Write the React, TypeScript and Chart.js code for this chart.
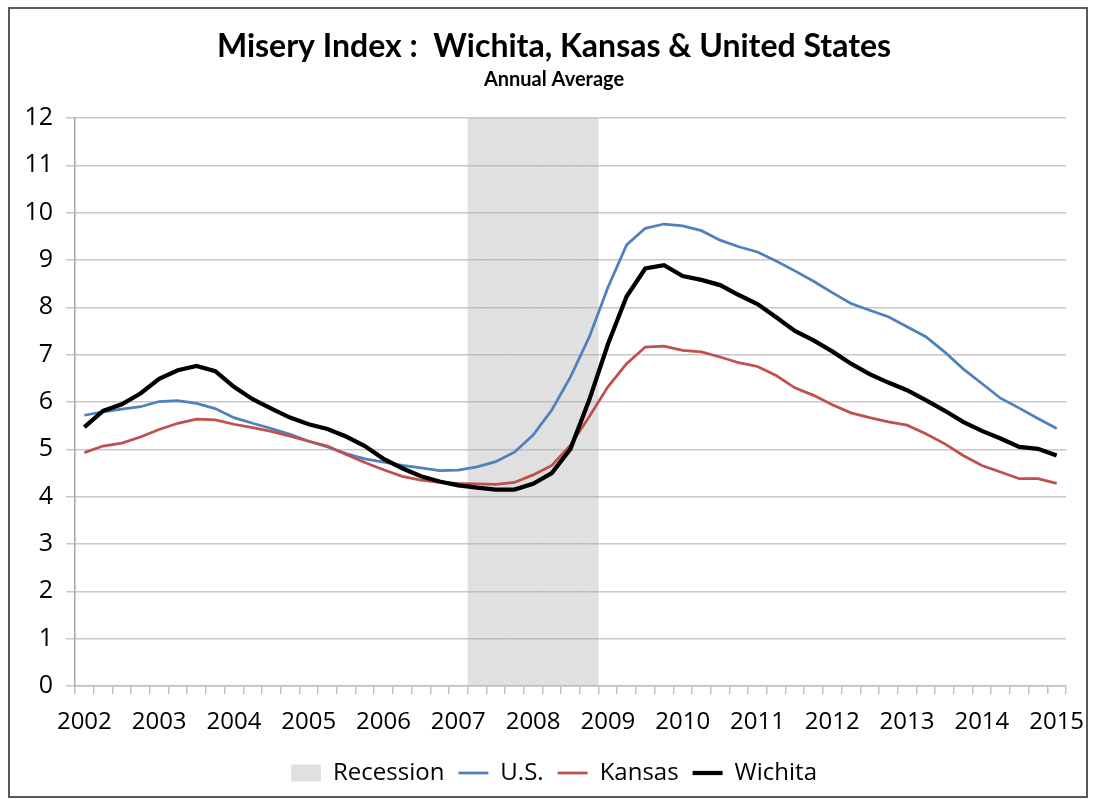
import React, { useEffect, useRef } from 'react';
import { Chart, registerables } from 'chart.js';

Chart.register(...registerables);

const years = ['2002', '2003', '2004', '2005', '2006', '2007', '2008', '2009', '2010', '2011', '2012', '2013', '2014', '2015'];
const quarters = ['Q1', 'Q2', 'Q3', 'Q4'];
const categories = years.flatMap((y) => (y === '2015' ? [`${y} Q1`] : quarters.map((q) => `${y} ${q}`)));

const usValues = [
  5.72, 5.79, 5.85, 5.90, 6.01, 6.03, 5.97, 5.86, 5.67, 5.55, 5.44, 5.32, 5.17,
  5.05, 4.91, 4.80, 4.73, 4.66, 4.61, 4.55, 4.56, 4.63, 4.74, 4.94, 5.30, 5.83,
  6.53, 7.37, 8.42, 9.32, 9.67, 9.76, 9.72, 9.62, 9.42, 9.28, 9.17, 8.98, 8.77,
  8.55, 8.31, 8.08, 7.94, 7.80, 7.59, 7.38, 7.06, 6.70, 6.39, 6.08, 5.87, 5.65, 5.44,
];
const kansasValues = [
  4.93, 5.07, 5.13, 5.26, 5.42, 5.55, 5.64, 5.62, 5.53, 5.46, 5.38, 5.28, 5.17,
  5.07, 4.89, 4.72, 4.57, 4.43, 4.35, 4.30, 4.28, 4.27, 4.26, 4.30, 4.46, 4.66,
  5.09, 5.69, 6.32, 6.81, 7.16, 7.18, 7.09, 7.06, 6.95, 6.83, 6.75, 6.56, 6.30,
  6.14, 5.94, 5.77, 5.67, 5.58, 5.51, 5.33, 5.12, 4.87, 4.66, 4.52, 4.38, 4.38, 4.28,
];
const wichitaValues = [
  5.47, 5.81, 5.95, 6.18, 6.49, 6.67, 6.76, 6.65, 6.32, 6.06, 5.86, 5.67, 5.53,
  5.43, 5.27, 5.07, 4.80, 4.60, 4.43, 4.32, 4.24, 4.19, 4.15, 4.15, 4.27, 4.50,
  5.01, 6.04, 7.22, 8.23, 8.82, 8.89, 8.66, 8.58, 8.47, 8.26, 8.07, 7.79, 7.50,
  7.30, 7.07, 6.81, 6.59, 6.41, 6.25, 6.04, 5.82, 5.58, 5.39, 5.23, 5.05, 5.01, 4.87,
];
const recessionQuarters = ['2007 Q2', '2007 Q3', '2007 Q4', '2008 Q1', '2008 Q2', '2008 Q3', '2008 Q4'];
const recessionHeight = 12;

const titleText = 'Misery Index :  Wichita, Kansas & United States';
const subtitleText = 'Annual Average';

export default function App() {
  const canvasRef = useRef<HTMLCanvasElement>(null);

  useEffect(() => {
    const recessionData = categories.map((c) => (recessionQuarters.includes(c) ? recessionHeight : null));
    const tickFont = { family: '"Open Sans", sans-serif', size: 24 };
    const chart = new Chart(canvasRef.current as HTMLCanvasElement, {
      data: {
        labels: categories,
        datasets: [
          {
            type: 'bar',
            label: 'Recession',
            data: recessionData,
            backgroundColor: 'rgba(170,170,170,0.36)',
            borderWidth: 0,
            barPercentage: 1,
            categoryPercentage: 1,
            inflateAmount: 0,
            pointStyle: 'rect',
            yAxisID: 'y',
            order: 3,
          },
          {
            type: 'line',
            label: 'U.S.',
            data: usValues,
            borderColor: '#4F81BD',
            backgroundColor: '#4F81BD',
            borderWidth: 2.75,
            pointRadius: 0,
            pointStyle: 'line',
            tension: 0,
            yAxisID: 'y',
            order: 2,
          },
          {
            type: 'line',
            label: 'Kansas',
            data: kansasValues,
            borderColor: '#C0504D',
            backgroundColor: '#C0504D',
            borderWidth: 2.75,
            pointRadius: 0,
            pointStyle: 'line',
            tension: 0,
            yAxisID: 'y',
            order: 1,
          },
          {
            type: 'line',
            label: 'Wichita',
            data: wichitaValues,
            borderColor: '#000000',
            backgroundColor: '#000000',
            borderWidth: 4.25,
            pointRadius: 0,
            pointStyle: 'line',
            tension: 0,
            yAxisID: 'y',
            order: 0,
          },
        ],
      } as any,
      options: {
        responsive: false,
        animation: false,
        devicePixelRatio: 1,
        layout: { padding: { left: 10, right: 12, top: 0, bottom: 4 } },
        plugins: {
          title: {
            display: true,
            text: titleText,
            color: '#000',
            font: { family: 'Lato, sans-serif', size: 32, weight: 'bold' },
            padding: { top: 27, bottom: 0 },
          },
          subtitle: {
            display: true,
            text: subtitleText,
            color: '#000',
            font: { family: 'Lato, sans-serif', size: 20, weight: 'bold' },
            padding: { top: 2, bottom: 26.6 },
          },
          legend: {
            position: 'bottom',
            labels: {
              usePointStyle: true,
              pointStyleWidth: 30,
              boxHeight: 17,
              color: '#000',
              font: tickFont,
              padding: 14,
              sort: (a: any, b: any) => a.datasetIndex - b.datasetIndex,
            },
          },
          tooltip: { enabled: false },
        },
        scales: {
          x: {
            type: 'category',
            offset: true,
            grid: {
              display: true,
              drawOnChartArea: false,
              offset: true,
              tickLength: 8,
              color: '#bfbfbf',
              lineWidth: 1.5,
            },
            border: { display: true, color: '#bfbfbf', width: 1.5 },
            ticks: {
              autoSkip: false,
              maxRotation: 0,
              minRotation: 0,
              color: '#000',
              font: tickFont,
              padding: 14,
              callback: (_v: any, i: number) => (i % 4 === 0 ? categories[i].slice(0, 4) : ''),
            },
            afterFit: (s: any) => {
              s.height = 61;
            },
          },
          y: {
            position: 'left',
            min: 0,
            max: 12,
            ticks: { stepSize: 1, color: '#000', font: { family: '"Open Sans", sans-serif', size: 25 }, padding: 13 },
            grid: { color: '#c8c8c8', lineWidth: 1.5, tickLength: 9, drawTicks: true },
            border: { display: true, color: '#a6a6a6', width: 1.5 },
            afterFit: (s: any) => {
              s.width = 65;
            },
          },
          yRightSpace: {
            position: 'right',
            min: 0,
            max: 12,
            display: true,
            ticks: { display: false },
            grid: { display: false, drawOnChartArea: false },
            border: { display: false },
            afterFit: (s: any) => {
              s.width = 32;
            },
          },
        },
      } as any,
    });
    return () => chart.destroy();
  }, []);

  return (
    <>
      <div style={{ position: 'fixed', left: 0, top: 0, width: 1093, height: 799, overflow: 'hidden' }}>
        <canvas
          ref={canvasRef}
          width={1110}
          height={799}
          style={{ position: 'absolute', left: 0, top: 0, width: 1110, height: 799 }}
        />
      </div>
      <div
        style={{
          position: 'fixed',
          left: 8,
          top: 7,
          width: 1080,
          height: 791,
          border: '2px solid #595959',
          boxSizing: 'border-box',
          pointerEvents: 'none',
        }}
      />
    </>
  );
}
